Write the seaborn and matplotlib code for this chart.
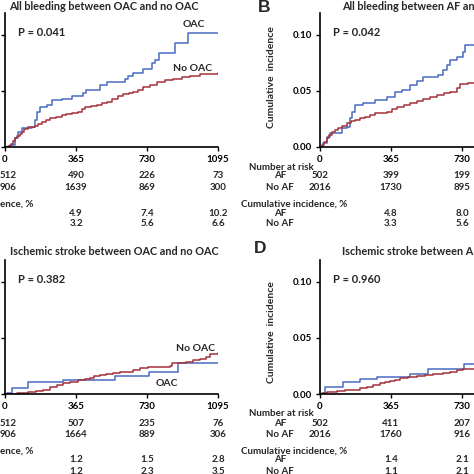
import pandas as pd
import matplotlib
matplotlib.use('Agg')
import matplotlib.pyplot as plt
import seaborn as sns

# ---- data ----
# A: all bleeding, OAC vs no OAC
a_oac_t = [0, 26, 51, 69, 86, 137, 154, 163, 180, 214, 240, 291, 343, 403, 416, 488, 523, 617, 634, 660,
           711, 754, 771, 790, 874, 943, 1095]
a_oac_v = [0, 0.0018, 0.0077, 0.0137, 0.0167, 0.018, 0.024, 0.0315, 0.0354, 0.0375, 0.042, 0.0432, 0.0455,
           0.0485, 0.051, 0.0553, 0.0583, 0.0605, 0.063, 0.066, 0.070, 0.0747, 0.078, 0.0836, 0.0926, 0.1015, 0.1015]
a_no_t = [0, 10, 17, 30, 40, 51, 62, 75, 86, 100, 120, 135, 154, 170, 189, 210, 231, 260, 291, 315, 343, 360,
          377, 395, 411, 440, 471, 500, 523, 550, 582, 608, 635, 660, 685, 711, 745, 780, 820, 865, 908, 950,
          1002, 1095]
a_no_v = [0, 0.0003, 0.0010, 0.0030, 0.0052, 0.0078, 0.0098, 0.0118, 0.0137, 0.0158, 0.0176, 0.0182, 0.0188,
          0.0208, 0.0226, 0.0242, 0.0256, 0.0272, 0.0286, 0.0294, 0.0301, 0.0308, 0.0315, 0.0335, 0.0354, 0.0364,
          0.0375, 0.0390, 0.0404, 0.0428, 0.0455, 0.0470, 0.0482, 0.0494, 0.0512, 0.0533, 0.0558, 0.0583, 0.0598,
          0.0610, 0.0622, 0.0636, 0.0652, 0.0658]

# B: all bleeding, AF vs no AF
b_af_t = [0, 17, 34, 51, 77, 111, 137, 154, 163, 180, 223, 283, 343, 386, 420, 463, 497, 531, 608, 634, 651,
          668, 703, 735, 745, 1095]
b_af_v = [0, 0.0033, 0.0092, 0.0122, 0.0128, 0.0167, 0.0181, 0.0256, 0.0315, 0.0375, 0.039, 0.042, 0.0449,
          0.0494, 0.0509, 0.0554, 0.0592, 0.0622, 0.0643, 0.0688, 0.0732, 0.0777, 0.0801, 0.0851, 0.0911, 0.0911]
b_no_t = [0, 9, 20, 34, 47, 60, 77, 94, 115, 137, 160, 180, 205, 231, 255, 283, 310, 343, 370, 394, 430, 463,
          500, 531, 565, 600, 635, 668, 703, 720, 762, 1095]
b_no_v = [0, 0.0018, 0.0045, 0.0077, 0.0105, 0.0137, 0.0152, 0.0167, 0.0190, 0.0211, 0.0228, 0.0241, 0.0256,
          0.0270, 0.0285, 0.0301, 0.0308, 0.0315, 0.0335, 0.0354, 0.0372, 0.039, 0.0408, 0.0426, 0.0445, 0.0464,
          0.0480, 0.0494, 0.0524, 0.0562, 0.0569, 0.0569]

# C: ischemic stroke, OAC vs no OAC
c_oac_t = [0, 8, 34, 120, 299, 565, 740, 890, 1095]
c_oac_v = [0, 0.0006, 0.005, 0.0104, 0.0125, 0.016, 0.020, 0.028, 0.028]
c_no_t = [0, 20, 60, 90, 120, 160, 197, 230, 265, 300, 334, 376, 410, 436, 460, 488, 520, 556, 590, 625, 660,
          693, 736, 800, 847, 856, 930, 967, 1000, 1035, 1052, 1095]
c_no_v = [0, 0.0003, 0.0006, 0.0012, 0.002, 0.003, 0.004, 0.006, 0.008, 0.0095, 0.011, 0.0125, 0.0135, 0.0146,
          0.016, 0.017, 0.0178, 0.0185, 0.0192, 0.020, 0.0215, 0.023, 0.024, 0.0245, 0.025, 0.028, 0.0285, 0.030,
          0.031, 0.033, 0.0357, 0.037]

# D: ischemic stroke, AF vs no AF
d_af_t = [0, 9, 26, 120, 206, 291, 463, 557, 740, 1095]
d_af_v = [0, 0.0012, 0.0065, 0.011, 0.013, 0.0155, 0.018, 0.022, 0.027, 0.027]
d_no_t = [0, 15, 34, 60, 86, 130, 171, 205, 240, 275, 308, 335, 360, 385, 411, 450, 497, 540, 583, 610, 634,
          670, 703, 737, 800, 1095]
d_no_v = [0, 0.0008, 0.0015, 0.0022, 0.003, 0.0035, 0.004, 0.005, 0.0065, 0.008, 0.0095, 0.0105, 0.0116,
          0.0128, 0.014, 0.015, 0.016, 0.0168, 0.0176, 0.0183, 0.019, 0.020, 0.0214, 0.0226, 0.023, 0.023]

x_ticks = [0, 365, 730, 1095]
y_ticks = [0, 0.05, 0.10]

# tables under the plots (only the part that is inside the picture)
a_risk = {'OAC': ['512', 490, 226, 73], 'No OAC': ['906', 1639, 869, 300]}
a_cum = {'OAC': [4.9, 7.4, 10.2], 'No OAC': [3.2, 5.6, 6.6]}
b_risk = {'AF': [502, 399, 199], 'No AF': [2016, 1730, 895]}
b_cum = {'AF': [4.8, 8.0], 'No AF': [3.3, 5.6]}
c_risk = {'OAC': ['512', 507, 235, 76], 'No OAC': ['906', 1664, 889, 306]}
c_cum = {'OAC': [1.2, 1.5, 2.8], 'No OAC': [1.2, 2.3, 3.5]}
d_risk = {'AF': [502, 411, 207], 'No AF': [2016, 1760, 916]}
d_cum = {'AF': [1.4, 2.1], 'No AF': [1.1, 2.1]}

BLUE = '#4a6bc2'
RED = '#a3323a'

sns.set_theme(style='ticks')
plt.rcParams['font.family'] = ['Lato', 'DejaVu Sans']
plt.rcParams['font.weight'] = 'bold'

W = 474.0
ROWS = [20, 29, 40.5, 57, 66, 77]  # px below the x axis


def rect(left, top, width, height):
    return [left / W, 1 - (top + height) / W, width / W, height / W]


def fx(x):
    return x / W


def fy(y):
    return 1 - y / W


def curves(ax, t1, v1, t2, v2, name1, name2, left_panel=True):
    df = pd.concat([
        pd.DataFrame({'days': t1, 'inc': v1, 'grp': name1}),
        pd.DataFrame({'days': t2, 'inc': v2, 'grp': name2}),
    ], ignore_index=True)
    sns.lineplot(data=df, x='days', y='inc', hue='grp', palette={name1: BLUE, name2: RED},
                 drawstyle='steps-post', estimator=None, sort=False, legend=False,
                 linewidth=1.1, ax=ax)
    ax.set_xlim(0, 1095)
    ax.set_ylim(0, 0.12)
    ax.set_xticks(x_ticks)
    ax.set_yticks(y_ticks)
    if left_panel:
        # y labels fall outside the picture on the left panels
        ax.set_xticklabels([str(t) for t in x_ticks])
        ax.set_yticklabels([])
    else:
        # the 1095 label falls outside the picture on the right panels
        ax.set_xticklabels([str(t) for t in x_ticks[:-1]] + [''])
        ax.set_yticklabels(['%.2f' % t for t in y_ticks])
    ax.set_xlabel('')
    ax.set_ylabel('')
    sns.despine(ax=ax)
    for s in ['left', 'bottom']:
        ax.spines[s].set_linewidth(1.2)
        ax.spines[s].set_color('black')
    ax.tick_params(direction='out', length=3, width=1, pad=3, labelsize=7, colors='black')


def put(ax, x, row, s, ha='center'):
    ax.annotate(s, xy=(x, 0), xycoords=('data', 'axes fraction'), xytext=(0, -ROWS[row] * 0.72),
                textcoords='offset points', ha=ha, va='center', fontsize=7, fontweight='bold',
                annotation_clip=False)


def table_right(ax, risk, cum, names):
    put(ax, -198, 0, 'Number at risk')
    put(ax, -134, 3, 'Cumulative incidence, %')
    for i, name in enumerate(names):
        put(ax, -206, 1 + i, name)
        put(ax, -206, 4 + i, name)
        for x, n in zip(x_ticks, risk[name]):
            put(ax, x, 1 + i, str(n))
        for x, c in zip(x_ticks[1:], cum[name]):
            put(ax, x, 4 + i, '%.1f' % c)


def table_left(fig, ax, risk, cum, names, axis_y):
    # left column is cut by the picture edge: only the visible part is written
    fig.text(0, fy(axis_y + ROWS[3]), 'ence, %', ha='left', va='center', fontsize=7, fontweight='bold')
    for i, name in enumerate(names):
        fig.text(0, fy(axis_y + ROWS[1 + i]), risk[name][0], ha='left', va='center', fontsize=7,
                 fontweight='bold')
        for x, n in zip(x_ticks[1:], risk[name][1:]):
            put(ax, x, 1 + i, str(n))
        for x, c in zip(x_ticks[1:], cum[name]):
            put(ax, x, 4 + i, '%.1f' % c)


fig = plt.figure(figsize=(4.74, 4.74), dpi=100)
axA = fig.add_axes(rect(5, 12.6, 213, 134.4))
axB = fig.add_axes(rect(320, 12.6, 213, 134.4))
axC = fig.add_axes(rect(5, 259.6, 213, 134.4))
axD = fig.add_axes(rect(320, 259.6, 213, 134.4))

curves(axA, a_oac_t, a_oac_v, a_no_t, a_no_v, 'OAC', 'No OAC')
curves(axB, b_af_t, b_af_v, b_no_t, b_no_v, 'AF', 'No AF', left_panel=False)
curves(axC, c_oac_t, c_oac_v, c_no_t, c_no_v, 'OAC', 'No OAC')
curves(axD, d_af_t, d_af_v, d_no_t, d_no_v, 'AF', 'No AF', left_panel=False)

table_left(fig, axA, a_risk, a_cum, ['OAC', 'No OAC'], 147)
table_right(axB, b_risk, b_cum, ['AF', 'No AF'])
table_left(fig, axC, c_risk, c_cum, ['OAC', 'No OAC'], 394)
table_right(axD, d_risk, d_cum, ['AF', 'No AF'])

for ax, p in [(axA, 'P = 0.041'), (axB, 'P = 0.042'), (axC, 'P = 0.382'), (axD, 'P = 0.960')]:
    ax.text(0.061, 0.855, p, transform=ax.transAxes, ha='left', va='center', fontsize=8, fontweight='bold')

# curve labels
axA.text(972, 0.109, 'OAC', ha='center', va='center', fontsize=7.5, fontweight='bold')
axA.text(966, 0.0705, 'No OAC', ha='center', va='center', fontsize=7.5, fontweight='bold')
axC.text(977, 0.041, 'No OAC', ha='center', va='center', fontsize=7.5, fontweight='bold')
axC.text(833, 0.009, 'OAC', ha='center', va='center', fontsize=7.5, fontweight='bold')

# titles (the right-hand ones run past the picture edge, as in the source)
fig.text(fx(104), fy(6), 'All bleeding between OAC and no OAC', ha='center', va='center', fontsize=7.8, fontweight='bold')
fig.text(fx(114.5), fy(252), 'Ischemic stroke between OAC and no OAC', ha='center', va='center', fontsize=7.8, fontweight='bold')
fig.text(fx(342), fy(6), 'All bleeding between AF and no AF', ha='left', va='center', fontsize=7.8, fontweight='bold')
fig.text(fx(342), fy(252), 'Ischemic stroke between AF and no AF', ha='left', va='center', fontsize=7.8, fontweight='bold')

fig.text(fx(264), fy(7), 'B', ha='center', va='center', fontsize=12.5, fontweight='bold', family='Liberation Sans')
fig.text(fx(260), fy(248), 'D', ha='center', va='center', fontsize=12.5, fontweight='bold', family='Liberation Sans')

fig.text(fx(272), fy(77), 'Cumulative  incidence', rotation=90, ha='center', va='center', fontsize=7.5, fontweight='bold')
fig.text(fx(272), fy(332), 'Cumulative  incidence', rotation=90, ha='center', va='center', fontsize=7.5, fontweight='bold')

fig.savefig('out.png', dpi=100)
plt.close()
